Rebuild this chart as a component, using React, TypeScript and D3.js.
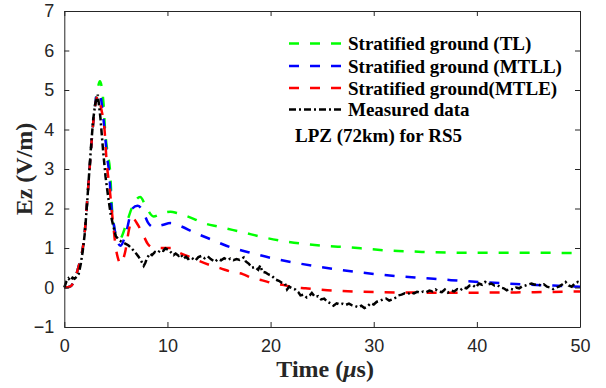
import { useEffect, useRef } from "react"
import * as d3 from "d3"

// Stratified ground (TL)
const tlTime = [0, 0.6, 1.0, 1.3, 1.6, 1.85, 2.05, 2.25, 2.45, 2.65, 2.85, 3.05, 3.25, 3.45, 3.8, 3.95, 4.2, 4.45, 4.6, 4.85, 5.1, 5.35, 6.0, 6.6, 7.35, 8.0, 8.65, 9.7, 10.3, 11.0, 12.7, 13.2, 15.1, 17.3, 19.3, 21.4, 23.4, 25.5, 27.5, 29.7, 31.8, 33.9, 36, 40, 45, 50]
const tlValue = [0, 0.03, 0.2, 0.45, 0.75, 1.1, 1.6, 2.3, 3.0, 3.7, 4.3, 4.75, 5.05, 5.22, 4.66, 4.0, 3.4, 2.9, 2.1, 1.5, 1.3, 1.22, 1.6, 2.05, 2.29, 2.0, 1.8, 1.9, 1.92, 1.88, 1.72, 1.66, 1.53, 1.4, 1.27, 1.17, 1.1, 1.05, 1.02, 0.97, 0.93, 0.91, 0.89, 0.88, 0.88, 0.87]

// Stratified ground (MTLL)
const mtllTime = [0, 0.6, 1.0, 1.3, 1.6, 1.85, 2.05, 2.25, 2.45, 2.65, 2.85, 3.05, 3.15, 3.5, 3.7, 3.9, 4.15, 4.35, 4.55, 4.8, 5.1, 5.45, 6.0, 6.6, 7.1, 7.6, 8.1, 8.65, 9.5, 10.3, 11.0, 12.7, 14.2, 16.1, 18.2, 20.2, 22.1, 24.3, 26.3, 28.4, 30.5, 32.6, 34.7, 36.8, 38.9, 41.0, 43.1, 45.2, 47.4, 50]
const mtllValue = [0, 0.03, 0.2, 0.45, 0.75, 1.1, 1.6, 2.3, 3.0, 3.7, 4.3, 4.75, 4.93, 4.85, 4.5, 4.0, 3.3, 2.9, 2.1, 1.6, 1.2, 1.06, 1.4, 2.0, 2.07, 1.95, 1.65, 1.53, 1.58, 1.63, 1.58, 1.38, 1.22, 1.02, 0.87, 0.74, 0.64, 0.54, 0.46, 0.39, 0.33, 0.28, 0.24, 0.2, 0.16, 0.13, 0.1, 0.07, 0.05, 0.02]

// Stratified ground (MTLE)
const mtleTime = [0, 0.6, 1.0, 1.3, 1.6, 1.85, 2.05, 2.25, 2.45, 2.65, 2.85, 3.05, 3.25, 3.6, 3.9, 4.1, 4.4, 4.7, 5.0, 5.25, 5.45, 5.9, 6.3, 6.65, 7.1, 7.67, 8.1, 8.64, 9.5, 10.4, 11.0, 12.2, 12.9, 14.2, 15.1, 16.3, 17.3, 18.2, 19.2, 20.2, 21.3, 22.4, 23.4, 24.5, 25.5, 27, 29, 31, 35, 40, 45, 50]
const mtleValue = [0, 0.03, 0.2, 0.45, 0.75, 1.1, 1.6, 2.3, 3.0, 3.7, 4.3, 4.7, 4.85, 4.5, 4.0, 3.2, 2.5, 1.7, 1.0, 0.7, 0.6, 0.9, 1.5, 1.75, 1.6, 1.32, 1.1, 1.01, 1.0, 1.0, 0.9, 0.77, 0.69, 0.56, 0.49, 0.39, 0.34, 0.24, 0.18, 0.11, 0.06, 0.0, -0.02, -0.05, -0.07, -0.09, -0.11, -0.12, -0.13, -0.13, -0.12, -0.1]

// Measured data
const measTime = [0, 0.2, 0.4, 0.6, 0.8, 1.0, 1.2, 1.4, 1.6, 1.8, 2.0, 2.2, 2.4, 2.6, 2.8, 3.0, 3.25, 3.5, 3.75, 4.0, 4.25, 4.5, 4.75, 5.0, 5.3, 5.6, 6.0, 6.2, 6.5, 6.7, 7.0, 7.2, 7.5, 7.7, 7.85, 8.0, 8.3, 8.5, 8.8, 9.1, 9.3, 9.6, 9.8, 10.1, 10.3, 10.6, 10.8, 11.1, 11.3, 11.55, 11.8, 12.0, 12.3, 12.7, 13.0, 13.3, 13.6, 13.9, 14.2, 14.6, 14.9, 15.2, 15.5, 15.8, 16.1, 16.4, 16.7, 17.0, 17.4, 17.6, 17.9, 18.2, 18.5, 18.8, 19.0, 19.2, 19.5, 19.8, 20.1, 20.5, 20.8, 21.1, 21.4, 21.6, 21.8, 22.1, 22.4, 22.7, 22.9, 23.2, 23.5, 23.8, 24.0, 24.3, 24.6, 24.9, 25.2, 25.5, 25.8, 26.1, 26.4, 26.7, 27.0, 27.3, 27.6, 27.9, 28.2, 28.5, 28.8, 29.1, 29.4, 29.7, 30.0, 30.3, 30.6, 30.9, 31.2, 31.5, 31.8, 32.1, 32.4, 32.7, 33.0, 33.3, 33.6, 33.9, 34.2, 34.5, 34.8, 35.1, 35.4, 35.7, 36.0, 36.3, 36.6, 36.9, 37.2, 37.5, 37.8, 38.1, 38.4, 38.7, 39.0, 39.3, 39.6, 39.9, 40.2, 40.5, 40.8, 41.1, 41.4, 41.7, 42.0, 42.3, 42.6, 42.9, 43.2, 43.5, 43.8, 44.1, 44.4, 44.7, 45.0, 45.3, 45.6, 45.9, 46.2, 46.5, 46.8, 47.1, 47.4, 47.7, 48.0, 48.3, 48.6, 48.9, 49.2, 49.5, 49.8, 50]
const measValue = [0, 0.15, 0.23, 0.17, 0.25, 0.22, 0.27, 0.35, 0.6, 0.95, 1.4, 2.1, 2.85, 3.6, 4.25, 4.65, 4.88, 4.3, 3.5, 2.8, 2.3, 1.85, 1.55, 1.3, 1.2, 1.15, 1.1, 1.07, 1.0, 0.94, 0.85, 0.78, 0.65, 0.55, 0.62, 0.73, 0.86, 0.82, 0.9, 0.88, 0.95, 0.93, 0.99, 0.95, 0.9, 0.82, 0.86, 0.8, 0.84, 0.73, 0.78, 0.72, 0.76, 0.68, 0.77, 0.8, 0.74, 0.79, 0.72, 0.65, 0.72, 0.69, 0.74, 0.7, 0.73, 0.69, 0.72, 0.7, 0.76, 0.66, 0.6, 0.5, 0.52, 0.45, 0.56, 0.4, 0.38, 0.33, 0.3, 0.2, 0.17, 0.12, 0.1, -0.05, 0.02, -0.02, -0.05, -0.12, -0.2, -0.18, -0.25, -0.2, -0.14, -0.24, -0.22, -0.3, -0.28, -0.36, -0.4, -0.46, -0.4, -0.43, -0.41, -0.44, -0.41, -0.45, -0.47, -0.5, -0.46, -0.52, -0.48, -0.4, -0.43, -0.36, -0.34, -0.3, -0.28, -0.33, -0.3, -0.26, -0.2, -0.18, -0.15, -0.17, -0.12, -0.15, -0.11, -0.13, -0.1, -0.12, -0.08, -0.1, -0.05, -0.1, -0.12, -0.05, -0.13, -0.08, -0.1, -0.04, -0.07, 0.0, -0.02, 0.05, 0.06, 0.0, 0.1, 0.07, 0.14, 0.08, 0.1, 0.05, 0.06, 0.0, -0.02, -0.07, -0.03, -0.05, 0.0, -0.02, 0.03, 0.05, 0.08, 0.1, 0.07, 0.09, 0.05, 0.08, 0.02, 0.0, -0.04, 0.0, 0.03, 0.08, 0.14, 0.05, 0.02, 0.1, 0.14, 0.12]

const xTicks = [0, 10, 20, 30, 40, 50]
const yTicks = [-1, 0, 1, 2, 3, 4, 5, 6, 7]

const seriesNames = ["Stratified ground (TL)", "Stratified ground (MTLL)", "Stratified ground(MTLE)", "Measured data"]

export default function App() {
  const svgRef = useRef<SVGSVGElement>(null)

  useEffect(() => {
    if (!svgRef.current) return
    const svg = d3.select(svgRef.current)
    svg.selectAll("*").remove()

    const left = 64.3
    const right = 580
    const top = 11
    const bottom = 327
    const axisColor = "#262626"
    const serif = "'Liberation Serif', 'Times New Roman', serif"

    const x = d3.scaleLinear().domain([0, 50]).range([left, right])
    const y = d3.scaleLinear().domain([-1, 7]).range([bottom, top])

    const series = [
      { t: tlTime, v: tlValue, color: "#00ff00", dash: "10,11", curve: d3.curveMonotoneX },
      { t: mtllTime, v: mtllValue, color: "#0000ff", dash: "10,11", curve: d3.curveMonotoneX },
      { t: mtleTime, v: mtleValue, color: "#ff0000", dash: "10,11", curve: d3.curveMonotoneX },
      { t: measTime, v: measValue, color: "#000000", dash: "7,3,2,3", curve: d3.curveLinear },
    ]

    // 배경
    svg.append("rect").attr("width", 606).attr("height", 388).attr("fill", "#fff")

    // 곡선
    series.forEach((s) => {
      const pts = s.t.map((t, i) => [t, s.v[i]] as [number, number])
      const line = d3
        .line<[number, number]>()
        .x((d) => x(d[0]))
        .y((d) => y(d[1]))
        .curve(s.curve)
      svg
        .append("path")
        .datum(pts)
        .attr("fill", "none")
        .attr("stroke", s.color)
        .attr("stroke-width", 2.5)
        .attr("stroke-dasharray", s.dash)
        .attr("d", line)
    })

    // 축 (box on, 안쪽 눈금)
    const axisStyle = (g: d3.Selection<SVGGElement, unknown, null, undefined>) => {
      g.select(".domain").attr("stroke", axisColor)
      g.selectAll(".tick line").attr("stroke", axisColor)
      g.selectAll(".tick text")
        .attr("fill", axisColor)
        .style("font-family", "'Liberation Sans', Arial, sans-serif")
        .style("font-size", "18px")
    }

    svg
      .append("g")
      .attr("transform", `translate(0,${bottom})`)
      .call(d3.axisBottom(x).tickValues(xTicks).tickSizeInner(-5).tickSizeOuter(0).tickPadding(12).tickFormat(d3.format("d")))
      .call(axisStyle)
    svg
      .append("g")
      .attr("transform", `translate(${left},0)`)
      .call(d3.axisLeft(y).tickValues(yTicks).tickSizeInner(-5).tickSizeOuter(0).tickPadding(10).tickFormat(d3.format("d")))
      .call(axisStyle)
    svg
      .append("g")
      .attr("transform", `translate(0,${top})`)
      .call(d3.axisTop(x).tickValues(xTicks).tickSizeInner(-5).tickSizeOuter(0).tickFormat(() => ""))
      .call(axisStyle)
    svg
      .append("g")
      .attr("transform", `translate(${right},0)`)
      .call(d3.axisRight(y).tickValues(yTicks).tickSizeInner(-5).tickSizeOuter(0).tickFormat(() => ""))
      .call(axisStyle)

    // 축 레이블
    const xl = svg
      .append("text")
      .attr("x", (left + right) / 2 + 3)
      .attr("y", 377)
      .attr("text-anchor", "middle")
      .attr("fill", axisColor)
      .style("font-family", serif)
      .style("font-weight", "bold")
      .style("font-size", "24px")
    xl.append("tspan").text("Time (")
    xl.append("tspan").style("font-style", "italic").text("μ")
    xl.append("tspan").text("s)")

    svg
      .append("text")
      .attr("transform", `translate(32,${(top + bottom) / 2}) rotate(-90)`)
      .attr("text-anchor", "middle")
      .attr("fill", axisColor)
      .style("font-family", serif)
      .style("font-weight", "bold")
      .style("font-size", "24px")
      .text("Ez (V/m)")

    // 범례
    const legendY = [43.5, 66, 88, 109.5]
    series.forEach((s, i) => {
      svg
        .append("line")
        .attr("x1", 289)
        .attr("x2", 343)
        .attr("y1", legendY[i])
        .attr("y2", legendY[i])
        .attr("stroke", s.color)
        .attr("stroke-width", 2.5)
        .attr("stroke-dasharray", i === 3 ? "7,3,2,3" : "10,11")
      svg
        .append("text")
        .attr("x", 348)
        .attr("y", legendY[i] + 6.5)
        .attr("fill", "#000")
        .style("font-family", serif)
        .style("font-weight", "bold")
        .style("font-size", "19px")
        .text(seriesNames[i])
    })

    svg
      .append("text")
      .attr("x", 295)
      .attr("y", 141.5)
      .attr("fill", "#000")
      .style("font-family", serif)
      .style("font-weight", "bold")
      .style("font-size", "19px")
      .text("LPZ (72km) for RS5")
  }, [])

  return <svg ref={svgRef} width={606} height={388} style={{ position: "absolute", left: 0, top: 0 }} />
}
